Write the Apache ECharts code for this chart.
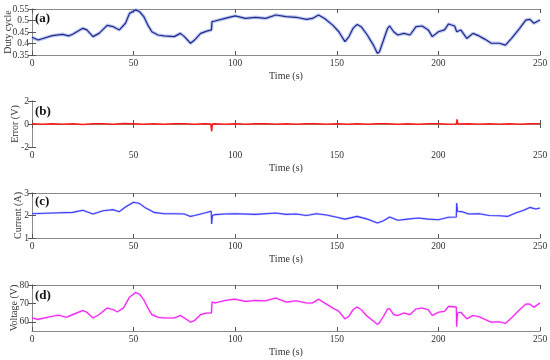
<!DOCTYPE html>
<html><head><meta charset="utf-8">
<script src="https://cdn.jsdelivr.net/npm/echarts@6/dist/echarts.min.js"></script>
<style>html,body{margin:0;padding:0;background:#fff}#c{width:550px;height:360px}</style>
</head><body><div id="c"></div>
<script>
// ---- Data ----
const xTicks = [0, 50, 100, 150, 200, 250];

const tDuty = [0,3,10,15,18,20,25,27,30,33,37,40,43,46,48,51,53,55,57,59,62,65,70,73,75,78,80,83,86,88.3,88.6,90,95,100,105,110,115,120,125,130,135,138,141,144,148,151,154,156,158,160,162,165,168,170,171,173,175,176,178,180,183,186,189,192,195,197,200,203,205,208,209,211,214,217,220,223,226,230,233,236,240,243,245,247,250];
const duty = [0.427,0.415,0.434,0.44,0.433,0.44,0.466,0.459,0.43,0.444,0.479,0.473,0.459,0.488,0.531,0.546,0.538,0.517,0.48,0.451,0.437,0.433,0.43,0.444,0.43,0.401,0.415,0.444,0.454,0.459,0.495,0.498,0.509,0.52,0.509,0.514,0.509,0.524,0.517,0.514,0.505,0.509,0.524,0.509,0.48,0.451,0.408,0.43,0.466,0.483,0.473,0.437,0.393,0.357,0.364,0.415,0.466,0.476,0.451,0.437,0.444,0.437,0.473,0.476,0.459,0.43,0.451,0.459,0.485,0.476,0.451,0.459,0.422,0.444,0.433,0.418,0.401,0.401,0.393,0.422,0.466,0.502,0.505,0.488,0.502];

const tErr = [0,5,10,15,20,25,30,35,40,45,50,55,60,65,70,75,80,85,88,88.4,88.8,90,95,100,105,110,115,120,125,130,135,140,145,150,155,160,165,170,175,180,185,190,195,200,205,208.8,209.2,209.6,215,220,225,230,235,240,245,250];
const err = [0.02,-0.03,0.03,-0.02,0.02,-0.04,0.03,0.02,-0.03,0.04,0.02,-0.02,0.03,-0.03,0.02,0.03,-0.02,0.03,0,-0.65,0,0.03,-0.02,0.03,-0.03,0.02,0.03,-0.02,0.02,-0.03,0.03,0.02,-0.02,0.03,-0.03,0.02,-0.02,0.03,0.02,-0.03,0.03,-0.02,0.02,0.03,-0.02,0,0.4,0,0.02,-0.03,0.03,-0.02,0.02,-0.03,0.03,0.02];

const tCur = [0,10,20,25,30,35,40,43,46,50,53,56,60,65,70,75,78,80,85,88.2,88.4,88.8,90,95,100,110,120,125,130,135,140,145,150,154,160,165,170,173,176,180,185,190,195,200,205,208.8,209,209.4,212,215,220,225,230,234,238,242,245,248,250];
const cur = [2.08,2.11,2.14,2.23,2.07,2.21,2.26,2.17,2.38,2.59,2.53,2.33,2.14,2.08,2.08,2.07,1.96,2.0,2.11,2.19,1.62,2.0,2.04,2.07,2.08,2.05,2.11,2.05,2.07,2.0,2.08,2.02,1.92,1.84,1.96,1.84,1.67,1.77,1.93,1.79,1.84,1.89,1.84,1.81,1.92,1.93,2.55,2.19,2.16,2.07,2.08,2.0,1.99,1.96,2.11,2.23,2.36,2.29,2.33];

const tVol = [0,3,10,13,17,20,25,27,30,33,37,40,42,45,48,51,53,55,57,59,62,65,70,73,75,78,80,83,86,88.3,88.6,90,95,100,105,110,115,120,125,130,135,138,141,144,148,151,154,156,158,160,162,165,168,170,171,173,175,176,178,180,183,186,189,192,195,197,200,203,205,208.8,209,209.4,211,214,217,220,223,226,230,233,236,240,243,245,247,250];
const vol = [62.1,61.3,63,63.6,62.5,63.9,66.2,65.2,62.1,63.9,67.5,66.6,65.4,67.5,73.4,75.9,75,72,67.5,63.9,62.5,62.1,62.1,63.4,62.1,59.8,60.7,63.9,64.8,64.8,70.8,70.2,71.6,72.3,71.1,71.6,71.4,72.9,70.7,71.4,70.2,70.2,72.3,70.2,67.5,65.7,61.6,63,66.6,68,66.6,63,60.4,58.6,59.5,63,67,67.1,63.9,63.4,64.8,63.9,67,67.5,66.6,63.4,65.2,65.7,68.4,68,57.3,64.8,65.2,61.6,63.4,62.7,61.3,59.8,60,59.1,62.1,66.6,69.6,69.6,67.9,70.2];

const pairs = (t, v) => t.map((x, i) => [x, v[i]]);

// ---- Layout / styles ----
const FONT = 'Liberation Serif';
const AX = '#8a8a8a';
const LBL = '#333';
const grids = [
  {left: 32, right: 10, top: 9, height: 46},
  {left: 32, right: 10, top: 101, height: 46},
  {left: 32, right: 10, top: 193, height: 45},
  {left: 32, right: 10, top: 285, height: 46}
].map(g => Object.assign(g, {containLabel: false, outerBoundsMode: 'none'}));
const yCfg = [
  {min: 0.35, max: 0.55, interval: 0.05, name: 'Duty cycle', gap: 19, fmt: v => (Math.round(v*100)/100).toString()},
  {min: -2, max: 2, interval: 2, name: 'Error (V)', gap: 12, fmt: v => v},
  {min: 1, max: 3, interval: 1, name: 'Current (A)', gap: 9, fmt: v => v},
  {min: 55, max: 80, interval: 5, name: 'Voltage (V)', gap: 13, fmt: v => v, custom: [60, 70, 80]}
];

const xAxis = [], yAxis = [], series = [];
grids.forEach((g, i) => {
  xAxis.push({
    type: 'value', gridIndex: i, min: 0, max: 250, interval: 50,
    name: 'Time (s)', nameLocation: 'middle', nameGap: 16, nameMoveOverlap: false,
    nameTextStyle: {fontFamily: FONT, fontSize: 10, color: LBL},
    axisLine: {lineStyle: {color: AX, width: 1}},
    axisTick: {inside: true, length: 4, lineStyle: {color: '#555'}},
    axisLabel: {fontFamily: FONT, fontSize: 9.5, color: LBL, margin: 3},
    splitLine: {show: false}
  });
  xAxis.push({
    type: 'value', gridIndex: i, min: 0, max: 250, interval: 50, position: 'top',
    axisLine: {lineStyle: {color: AX, width: 1}},
    axisTick: {inside: true, length: 4, lineStyle: {color: '#555'}},
    axisLabel: {show: false}, splitLine: {show: false}
  });
  const c = yCfg[i];
  const yl = {
    type: 'value', gridIndex: i, min: c.min, max: c.max, interval: c.interval,
    name: c.name, nameLocation: 'middle', nameGap: c.gap, nameRotate: 90, nameMoveOverlap: false,
    nameTextStyle: {fontFamily: FONT, fontSize: 10, color: LBL},
    axisLine: {show: true, lineStyle: {color: AX, width: 1}},
    axisTick: {show: true, inside: true, length: 4, lineStyle: {color: '#555'}},
    axisLabel: {fontFamily: FONT, fontSize: 9.5, color: LBL, margin: 3, formatter: c.fmt},
    splitLine: {show: false}
  };
  const yr = {
    type: 'value', gridIndex: i, min: c.min, max: c.max, interval: c.interval, position: 'right',
    axisLine: {show: true, lineStyle: {color: AX, width: 1}},
    axisTick: {show: true, inside: true, length: 4, lineStyle: {color: '#555'}},
    axisLabel: {show: false}, splitLine: {show: false}
  };
  if (c.custom) {
    yl.axisLabel.customValues = c.custom; yl.axisTick.customValues = c.custom;
    yr.axisTick.customValues = c.custom;
  }
  yAxis.push(yl, yr);
});

const mk = (i, data, color, width, opacity, z) => ({
  type: 'line', xAxisIndex: i*2, yAxisIndex: i*2, data, showSymbol: false, symbol: 'none',
  silent: true, animation: false, z: z || 2,
  lineStyle: {color, width, opacity: opacity == null ? 1 : opacity}
});
series.push(mk(0, pairs(tDuty, duty), '#8f9de6', 3.5, 0.55, 1));
series.push(mk(0, pairs(tDuty, duty), '#1c2a8c', 1.2, 1, 3));
series.push(mk(1, pairs(tErr, err), '#ff1a1a', 1.5, 1, 2));
series.push(mk(2, pairs(tCur, cur), '#8a8aff', 2.2, 0.45, 1));
series.push(mk(2, pairs(tCur, cur), '#3b3bff', 1.1, 1, 3));
series.push(mk(3, pairs(tVol, vol), '#ff80ff', 2.2, 0.45, 1));
series.push(mk(3, pairs(tVol, vol), '#f020f0', 1.1, 1, 3));

const labels = ['(a)', '(b)', '(c)', '(d)'];
const labelY = [20, 113, 203, 297];
const graphic = labels.map((s, i) => ({
  type: 'text', left: 35, top: labelY[i] - 8,
  style: {text: s, font: 'bold 13px "Liberation Serif"', fill: '#111'}
}));

const chart = echarts.init(document.getElementById('c'), null, {renderer: 'canvas'});
chart.setOption({
  animation: false, backgroundColor: '#fff',
  grid: grids, xAxis, yAxis, series, graphic
});
</script></body></html>
